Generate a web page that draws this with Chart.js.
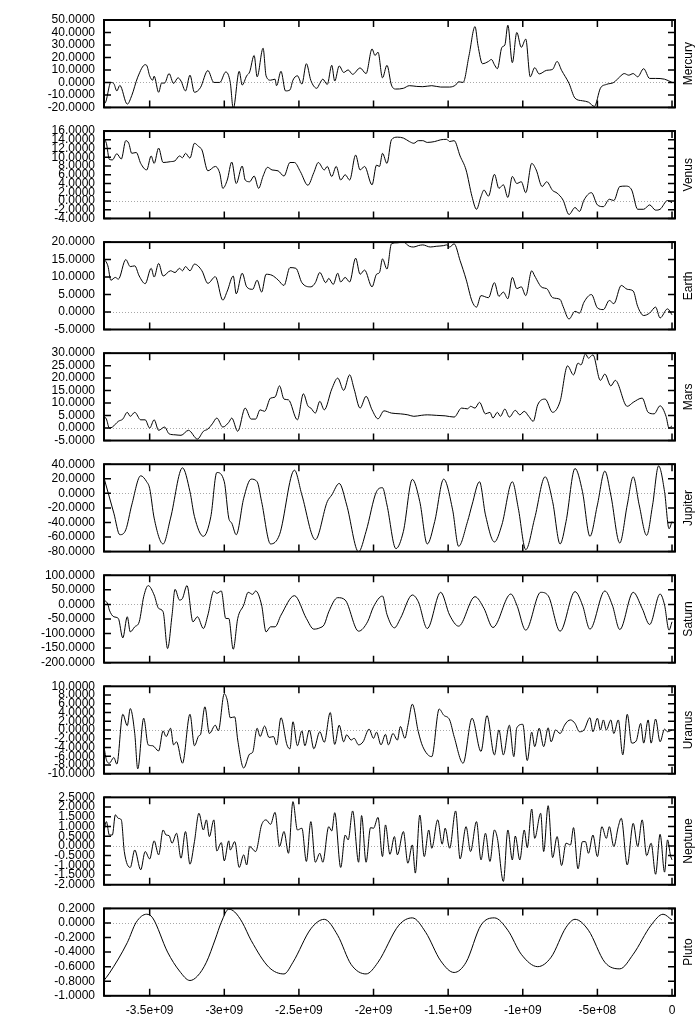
<!DOCTYPE html>
<html>
<head>
<meta charset="utf-8">
<title>Planets</title>
<script src="https://cdn.jsdelivr.net/npm/chart.js@4.4.0/dist/chart.umd.min.js"></script>
<style>
  html, body { margin: 0; padding: 0; background: #fff; }
  #wrap { position: relative; width: 700px; height: 1021px; overflow: hidden; }
  #wrap canvas { position: absolute; left: 0; }
</style>
</head>
<body>
<div id="wrap"></div>
<script>
// [age in years (negative = past), value]
const mercury = [[-381e7,-13.2],[-380e7,-16.6],[-376e7,0],[-374e7,-1],[-372e7,-6.8],[-370e7,-2.4],[-365e7,-17.4],[-362e7,-10.5],[-358e7,4.2],[-353e7,14.2],[-352e7,13.7],[-350e7,5.3],[-348e7,1.8],[-347e7,5],[-344e7,-7.9],[-342e7,-0.5],[-340e7,-0.5],[-337e7,7.1],[-334e7,-0.8],[-331e7,3.7],[-329e7,1.1],[-326e7,-6.8],[-323e7,5.8],[-320e7,-7.9],[-316e7,-4.2],[-311e7,9.5],[-307e7,0],[-303e7,0],[-299e7,8.4],[-296e7,0],[-294e7,-21],[-290e7,8.9],[-288e7,-2.1],[-285e7,5.3],[-283e7,8.4],[-280e7,21.6],[-278e7,4.5],[-274e7,27.4],[-272e7,5.3],[-269e7,1.8],[-266e7,2.6],[-265e7,-2.6],[-262e7,8.9],[-259e7,-6.8],[-256e7,-6],[-254e7,1.8],[-251e7,5.3],[-248e7,-1.3],[-245e7,15],[-242e7,1.6],[-238e7,-4.7],[-236e7,-0.8],[-234e7,2.6],[-231e7,-1.6],[-228e7,13.7],[-226e7,1.1],[-223e7,13.2],[-220e7,8],[-217e7,10],[-214e7,6.5],[-209e7,11.6],[-205e7,7.1],[-201e7,26.8],[-199e7,21.6],[-197e7,24.2],[-194e7,3.7],[-191e7,13.7],[-188e7,-2.1],[-185e7,-5.3],[-180e7,-4.7],[-176e7,-2.6],[-171e7,-3.2],[-167e7,-3.4],[-161e7,-2.6],[-155e7,-3.7],[-149e7,-3.7],[-145e7,-2.1],[-143e7,0.5],[-140e7,0],[-136e7,21.6],[-132e7,44.7],[-130e7,29.5],[-127e7,15],[-123e7,16.8],[-121e7,18.4],[-119e7,14.2],[-117e7,11],[-114e7,28.1],[-112e7,30],[-110e7,45.8],[-107e7,15.8],[-104e7,40],[-101e7,28.1],[-98e7,34.7],[-95e7,4.5],[-92e7,11.8],[-89e7,6.8],[-84e7,9.7],[-80e7,10.5],[-77e7,16.8],[-74e7,9.7],[-69e7,-0.8],[-65e7,-12.6],[-60e7,-14.7],[-56e7,-15.8],[-52e7,-19.2],[-48e7,-4.7],[-44e7,-1.6],[-39e7,0],[-35e7,4.5],[-32e7,7.1],[-29e7,5.8],[-26e7,7.1],[-23e7,4.5],[-19e7,11],[-15e7,3.2],[-11e7,3.2],[-5e7,2.6],[0,0]];

const venus = [[-381e7,14.4],[-379e7,13.2],[-377e7,9.5],[-375e7,9.4],[-372e7,10.8],[-369e7,9.6],[-366e7,13.8],[-364e7,13.2],[-362e7,10.9],[-359e7,11.1],[-356e7,8.6],[-352e7,7.1],[-349e7,10.3],[-347e7,8.6],[-344e7,12.1],[-341e7,8.8],[-336e7,9],[-333e7,9.2],[-330e7,10.3],[-328e7,9.9],[-326e7,10.9],[-323e7,9.8],[-320e7,13.2],[-317e7,12.4],[-315e7,11.7],[-311e7,6.9],[-306e7,7.9],[-303e7,6.3],[-301e7,2.9],[-298e7,4.8],[-295e7,8.9],[-292e7,4],[-288e7,8],[-286e7,4.8],[-283e7,4.4],[-280e7,5.7],[-277e7,2.9],[-274e7,5.7],[-271e7,7.7],[-268e7,7.1],[-264e7,6.9],[-260e7,5.7],[-256e7,8.8],[-253e7,8.8],[-249e7,6.7],[-244e7,3.6],[-240e7,6.5],[-237e7,8.8],[-233e7,7.1],[-231e7,7.9],[-228e7,5.6],[-225e7,7.9],[-222e7,4.8],[-219e7,6],[-216e7,4.8],[-212e7,10.5],[-209e7,7.1],[-206e7,7.9],[-201e7,3.7],[-198e7,8.2],[-196e7,7.9],[-194e7,10.9],[-191e7,8.6],[-188e7,14],[-184e7,14.6],[-180e7,14.4],[-176e7,13.6],[-173e7,13.2],[-170e7,13.8],[-167e7,13.8],[-164e7,13.4],[-159e7,13.6],[-155e7,14],[-151e7,14.1],[-149e7,13.6],[-146e7,13.8],[-142e7,10.3],[-138e7,7.1],[-134e7,1],[-131e7,-1.9],[-128e7,1],[-126e7,2.5],[-123e7,1.1],[-119e7,6.1],[-116e7,2.9],[-113e7,3.7],[-110e7,0.8],[-107e7,5.6],[-104e7,4],[-101e7,4.4],[-98e7,1.9],[-94e7,8.6],[-91e7,7.1],[-87e7,3.3],[-84e7,4.4],[-80e7,2.4],[-77e7,1.8],[-73e7,0.2],[-69e7,-3.1],[-65e7,-1.5],[-62e7,-2.4],[-59e7,0.2],[-54e7,1.9],[-50e7,-0.9],[-46e7,-1.3],[-42e7,0.4],[-39e7,0.1],[-35e7,3.3],[-31e7,3.4],[-27e7,2.5],[-23e7,-1.9],[-19e7,-1.9],[-15e7,-0.9],[-11e7,-2.1],[-8e7,-1.9],[-3e7,0.1],[0,-0.4]];

const earth = [[-381e7,15.4],[-378e7,13.2],[-376e7,9.1],[-373e7,9.9],[-371e7,9.4],[-366e7,15],[-363e7,13],[-360e7,13.2],[-357e7,10.3],[-353e7,8.1],[-349e7,12.5],[-347e7,10],[-344e7,13.9],[-341e7,10.3],[-336e7,11.8],[-333e7,11.3],[-330e7,12.5],[-328e7,11.8],[-326e7,13],[-323e7,11.8],[-320e7,13.7],[-315e7,11.8],[-311e7,8.2],[-306e7,10.1],[-301e7,3.4],[-298e7,6],[-294e7,10.3],[-292e7,5.2],[-288e7,11.1],[-285e7,7.2],[-281e7,6.5],[-278e7,9.1],[-275e7,5.7],[-272e7,10.8],[-268e7,10.5],[-264e7,9.2],[-260e7,7.6],[-256e7,12.7],[-252e7,12.5],[-248e7,8.4],[-242e7,7.2],[-239e7,8.4],[-236e7,11.3],[-232e7,8.4],[-230e7,9.6],[-227e7,7.9],[-224e7,11.1],[-222e7,8.6],[-219e7,9.9],[-216e7,8.6],[-212e7,15.4],[-209e7,10.8],[-206e7,12],[-201e7,7.2],[-198e7,10.8],[-196e7,11.3],[-194e7,15.2],[-191e7,12.3],[-188e7,19.5],[-184e7,19.8],[-180e7,20],[-176e7,18.8],[-173e7,18.6],[-170e7,19],[-167e7,19.2],[-162e7,18.6],[-158e7,18.8],[-153e7,19],[-151e7,19.2],[-149e7,18.6],[-146e7,19.5],[-142e7,14.7],[-138e7,9.4],[-134e7,3.1],[-131e7,1.4],[-128e7,4.7],[-123e7,4.1],[-119e7,8.4],[-116e7,4.5],[-113e7,5.7],[-110e7,3.8],[-107e7,9.9],[-104e7,6.7],[-101e7,7.2],[-98e7,4.7],[-94e7,11.8],[-92e7,10.3],[-87e7,7],[-84e7,6.7],[-80e7,4.1],[-75e7,3.6],[-73e7,1.6],[-69e7,-2],[-65e7,0.2],[-62e7,-0.3],[-59e7,2.8],[-54e7,5],[-50e7,1.2],[-46e7,0.7],[-42e7,3.3],[-39e7,2.4],[-34e7,7.6],[-30e7,6.5],[-26e7,6],[-23e7,1.6],[-19e7,-1],[-15e7,-0.3],[-11e7,1.4],[-8e7,-1.7],[-3e7,0.9],[0,-0.8]];

const mars = [[-381e7,4.9],[-379e7,3.6],[-377e7,0],[-375e7,0.4],[-371e7,2.7],[-368e7,3.6],[-365e7,6.3],[-363e7,4.7],[-360e7,6.3],[-356e7,3.3],[-353e7,3.3],[-350e7,0],[-347e7,3.3],[-344e7,-0.9],[-340e7,0.4],[-337e7,-2.3],[-333e7,-2.7],[-329e7,-2.9],[-324e7,-0.9],[-318e7,-4.4],[-314e7,-1.3],[-311e7,-0.4],[-308e7,1.7],[-305e7,4],[-301e7,0.4],[-297e7,2.3],[-295e7,4],[-291e7,-1.3],[-286e7,8],[-282e7,3.6],[-279e7,3.6],[-276e7,7.3],[-273e7,6.7],[-269e7,12],[-266e7,12.4],[-263e7,16.9],[-260e7,11.6],[-257e7,11.3],[-251e7,3.3],[-247e7,13.7],[-244e7,8.9],[-242e7,8],[-239e7,6],[-236e7,10.7],[-233e7,7.3],[-228e7,15.6],[-224e7,20],[-220e7,15.1],[-216e7,21.3],[-213e7,15.6],[-209e7,8],[-205e7,12.7],[-201e7,7.3],[-197e7,3.7],[-193e7,6.9],[-188e7,6],[-182e7,5.7],[-177e7,5.3],[-173e7,4.7],[-168e7,5.1],[-164e7,5.3],[-158e7,5.1],[-152e7,4.9],[-146e7,4.4],[-141e7,8],[-137e7,7.7],[-135e7,8.7],[-132e7,8],[-129e7,10.3],[-125e7,5.7],[-122e7,6.3],[-120e7,4],[-117e7,6.3],[-115e7,4.7],[-112e7,7.6],[-109e7,4.4],[-105e7,7.1],[-102e7,5.3],[-99e7,6.7],[-96e7,4.7],[-93e7,2.7],[-90e7,9.3],[-85e7,11.6],[-80e7,6.3],[-75e7,10.7],[-70e7,24.9],[-66e7,21.3],[-63e7,26],[-61e7,25.3],[-58e7,29.7],[-56e7,28],[-53e7,29.3],[-48e7,19.1],[-45e7,21.6],[-41e7,16.9],[-38e7,19.1],[-30e7,8.7],[-26e7,10.3],[-20e7,12],[-16e7,6.3],[-12e7,5.7],[-8e7,8.9],[-4e7,4.7],[-2e7,0],[0,0.9]];

const jupiter = [[-381e7,24.1],[-374e7,-27.3],[-370e7,-56.8],[-366e7,-50],[-362e7,-15.9],[-356e7,24.1],[-352e7,15.9],[-350e7,6.8],[-347e7,-34],[-341e7,-69.5],[-336e7,-34],[-328e7,35],[-323e7,2.3],[-320e7,-31.8],[-314e7,-59],[-309e7,-31.8],[-305e7,28.6],[-300e7,15.9],[-297e7,-34],[-295e7,-40.9],[-292e7,-56.8],[-287e7,-6.8],[-282e7,19.5],[-278e7,15.9],[-275e7,-11.4],[-269e7,-69.5],[-263e7,-56.8],[-253e7,31.8],[-248e7,-2.3],[-239e7,-63.6],[-231e7,-11.4],[-228e7,-2.3],[-223e7,13.6],[-218e7,-15.9],[-210e7,-80.5],[-205e7,-52.3],[-198e7,2.3],[-194e7,7.7],[-191e7,-15.9],[-185e7,-75.9],[-180e7,-52.3],[-174e7,19.1],[-169e7,-11.4],[-164e7,-69.5],[-159e7,-38.6],[-153e7,19.5],[-147e7,-22.7],[-143e7,-72.7],[-137e7,-38.6],[-134e7,-15.9],[-129e7,15.9],[-125e7,-29.5],[-119e7,-66.8],[-114e7,-43.2],[-107e7,15.9],[-103e7,-20.5],[-98e7,-77.3],[-92e7,-34],[-85e7,22.7],[-80e7,-11.4],[-75e7,-69.5],[-71e7,-38.6],[-65e7,34.1],[-60e7,2.3],[-55e7,-59],[-50e7,-15.9],[-45e7,30.5],[-41e7,-2.3],[-35e7,-68.2],[-30e7,-15.9],[-26e7,22.7],[-22e7,-15.9],[-17e7,-57.7],[-13e7,-15.9],[-9e7,37.7],[-5e7,2.3],[-2e7,-48.6],[0,-38.6]];

const saturn = [[-381e7,3.4],[-380e7,11.5],[-378e7,0],[-377e7,-19.5],[-374e7,-42.5],[-371e7,-48.3],[-368e7,-115],[-365e7,-42.5],[-363e7,-94.3],[-360e7,-77],[-357e7,-59.8],[-354e7,26.4],[-351e7,64.4],[-347e7,32.2],[-344e7,-13.8],[-341e7,-25.3],[-338e7,-151.7],[-335e7,-36.8],[-333e7,51.7],[-330e7,14.9],[-328e7,20.7],[-325e7,64.4],[-321e7,-59.8],[-318e7,-42.5],[-314e7,-82.8],[-311e7,-36.8],[-307e7,46],[-305e7,37.9],[-302e7,46],[-299e7,-48.3],[-297e7,-48.3],[-294e7,-154],[-291e7,-48.3],[-287e7,-2.3],[-284e7,41.4],[-281e7,34.5],[-279e7,46],[-275e7,-2.3],[-272e7,-94.3],[-269e7,-77],[-266e7,-77],[-262e7,-36.8],[-253e7,29.9],[-245e7,-48.3],[-240e7,-85],[-236e7,-80.5],[-233e7,-69],[-230e7,-25.3],[-224e7,23],[-219e7,14.9],[-210e7,-92],[-204e7,-59.8],[-200e7,-8],[-194e7,28.7],[-191e7,-34.5],[-186e7,-80.5],[-182e7,-48.3],[-174e7,32.2],[-170e7,9.2],[-164e7,-82.8],[-155e7,41.4],[-149e7,-36.8],[-143e7,-74.7],[-132e7,26.4],[-126e7,-13.8],[-120e7,-79.3],[-108e7,35.6],[-104e7,-2.3],[-98e7,-88.5],[-88e7,41.4],[-83e7,29.9],[-75e7,-92],[-65e7,43.7],[-60e7,-2.3],[-55e7,-85],[-45e7,46],[-40e7,-2.3],[-35e7,-86.2],[-26e7,41.4],[-20e7,-13.8],[-15e7,-69],[-8e7,35.6],[-5e7,-2.3],[-2e7,-88.5],[0,-59.8]];

const uranus = [[-381e7,-3],[-379e7,-6.8],[-377e7,-7.6],[-374e7,-6.3],[-372e7,-7.8],[-368e7,3.6],[-365e7,1],[-363e7,4.9],[-360e7,-0.8],[-358e7,-8.9],[-354e7,2.7],[-351e7,-3.4],[-348e7,-3.6],[-344e7,-4.8],[-341e7,-0.2],[-339e7,-1.5],[-336e7,0.4],[-334e7,-3.4],[-332e7,-2.7],[-328e7,-7.6],[-323e7,3.6],[-320e7,-3.6],[-317e7,-1.3],[-316e7,-1.1],[-313e7,5.3],[-310e7,-0.8],[-306e7,1.1],[-304e7,-0.2],[-300e7,8.3],[-298e7,6.8],[-296e7,2.8],[-293e7,3],[-291e7,-2.3],[-287e7,-8.7],[-283e7,-5.5],[-281e7,-5.1],[-278e7,0.4],[-276e7,-1.5],[-273e7,0.9],[-270e7,-1.7],[-267e7,-1.5],[-265e7,-3.4],[-262e7,2.8],[-258e7,-3.4],[-256e7,-4.3],[-254e7,1.9],[-251e7,-3.6],[-248e7,-0.2],[-246e7,-3.6],[-243e7,0],[-240e7,-4.3],[-236e7,-0.4],[-233e7,-2.8],[-229e7,4],[-226e7,-3.3],[-223e7,1.1],[-220e7,-2.7],[-218e7,-1.1],[-215e7,-2.3],[-213e7,-1.9],[-210e7,-3.4],[-207e7,-2.7],[-203e7,0.2],[-200e7,-1.9],[-198e7,-0.5],[-195e7,-3.4],[-192e7,-1],[-190e7,-3.4],[-187e7,-0.8],[-184e7,-2.3],[-182e7,0.8],[-179e7,-1.9],[-177e7,1],[-174e7,5.9],[-170e7,-0.4],[-167e7,-3.8],[-161e7,-6.1],[-156e7,4.8],[-153e7,3.4],[-149e7,2.3],[-146e7,-1.5],[-140e7,-7.6],[-134e7,2.7],[-128e7,-4.9],[-124e7,3.3],[-119e7,-5.7],[-116e7,0],[-113e7,-5.7],[-109e7,1.1],[-106e7,-6.1],[-104e7,0.5],[-100e7,1.3],[-97e7,-7],[-94e7,-0.5],[-92e7,-3.8],[-89e7,0.4],[-86e7,-3.8],[-83e7,0.5],[-81e7,-2.7],[-78e7,0],[-75e7,-0.8],[-72e7,1.1],[-70e7,2],[-68e7,2.3],[-65e7,1.5],[-62e7,-0.4],[-59e7,0],[-55e7,2.8],[-53e7,-0.4],[-50e7,2.7],[-48e7,0],[-46e7,2.3],[-44e7,0],[-41e7,2.3],[-39e7,-0.8],[-36e7,2.3],[-33e7,-5.7],[-30e7,3.6],[-27e7,-3],[-24e7,-2.5],[-21e7,1.5],[-19e7,-3],[-16e7,2.3],[-14e7,-3],[-11e7,2.5],[-8e7,-2.7],[-5e7,0.2],[-3e7,-0.4],[0,0]];

const neptune = [[-381e7,0.56],[-379e7,1.25],[-377e7,0.56],[-375e7,0.56],[-373e7,1.6],[-371e7,1.42],[-369e7,1.34],[-367e7,-0.29],[-363e7,-1.11],[-360e7,-0.21],[-356e7,-1.23],[-353e7,-0.29],[-350e7,-0.67],[-347e7,0.26],[-344e7,-0.46],[-341e7,0.82],[-339e7,0.56],[-337e7,0.53],[-335e7,0.14],[-332e7,0.65],[-329e7,-0.63],[-326e7,0.74],[-323e7,-0.94],[-320e7,0.22],[-317e7,1.68],[-314e7,0.82],[-312e7,1.34],[-310e7,0.48],[-307e7,1.34],[-305e7,-0.26],[-302e7,0.17],[-300e7,-0.77],[-297e7,0.26],[-296e7,-0.21],[-293e7,0.22],[-290e7,-1.11],[-287e7,-0.46],[-285e7,-0.98],[-283e7,-0.03],[-279e7,-0.29],[-275e7,1.08],[-272e7,1.34],[-269e7,1.11],[-266e7,1.73],[-263e7,-0.03],[-260e7,0.74],[-257e7,-0.38],[-254e7,2.28],[-251e7,0.82],[-248e7,0.91],[-245e7,-0.8],[-242e7,1.25],[-239e7,-0.84],[-236e7,-0.38],[-234e7,-0.84],[-230e7,0.99],[-228e7,0.77],[-226e7,1.71],[-222e7,-1.11],[-219e7,0.56],[-217e7,0.31],[-214e7,1.8],[-210e7,-0.84],[-208e7,1.56],[-205e7,-0.84],[-202e7,0.94],[-200e7,0.91],[-197e7,1.47],[-194e7,-0.55],[-192e7,1.08],[-189e7,-0.43],[-186e7,0.48],[-184e7,-0.46],[-180e7,0.74],[-177e7,-0.89],[-174e7,0.05],[-172e7,-1.4],[-169e7,1.59],[-166e7,-0.55],[-163e7,0.82],[-161e7,-0.12],[-157e7,1.34],[-154e7,0.09],[-152e7,0.91],[-149e7,-0.12],[-145e7,1.8],[-142e7,-0.67],[-138e7,0.99],[-135e7,-0.29],[-131e7,1.25],[-128e7,-0.72],[-125e7,0.65],[-122e7,-0.8],[-119e7,0.82],[-117e7,0.39],[-113e7,-1.83],[-110e7,0.82],[-107e7,-0.72],[-105e7,0.51],[-102e7,-0.72],[-99e7,0.82],[-97e7,-0.09],[-94e7,1.9],[-92e7,0.39],[-88e7,1.68],[-86e7,-0.29],[-83e7,2.07],[-80e7,-0.6],[-77e7,0.48],[-74e7,-1.01],[-71e7,0.14],[-68e7,0.05],[-66e7,0.94],[-63e7,-1.18],[-60e7,0.22],[-58e7,0.22],[-56e7,-0.38],[-53e7,0.56],[-50e7,-0.55],[-47e7,0.99],[-44e7,0.39],[-42e7,0.99],[-39e7,-0.03],[-36e7,0.99],[-34e7,1.42],[-30e7,-0.98],[-26e7,1.16],[-23e7,-0.03],[-20e7,1.34],[-17e7,-0.5],[-14e7,0.14],[-11e7,-1.46],[-8e7,0.6],[-5e7,-1.35],[-3e7,0.31],[-1e7,-0.5],[0,-0.72]];

const pluto = [[-381e7,-0.8],[-377e7,-0.69],[-365e7,-0.27],[-359e7,0.01],[-352e7,0.12],[-348e7,0.07],[-338e7,-0.4],[-330e7,-0.66],[-323e7,-0.79],[-318e7,-0.73],[-312e7,-0.54],[-306e7,-0.22],[-302e7,0.01],[-297e7,0.19],[-293e7,0.15],[-288e7,0.01],[-282e7,-0.24],[-270e7,-0.61],[-260e7,-0.7],[-254e7,-0.54],[-242e7,-0.08],[-233e7,0.05],[-224e7,-0.17],[-215e7,-0.57],[-205e7,-0.7],[-197e7,-0.54],[-183e7,-0.03],[-174e7,0.07],[-165e7,-0.13],[-155e7,-0.52],[-146e7,-0.68],[-138e7,-0.54],[-128e7,-0.03],[-119e7,0.07],[-110e7,-0.1],[-101e7,-0.43],[-90e7,-0.6],[-81e7,-0.47],[-71e7,-0.06],[-65e7,0.05],[-56e7,-0.1],[-45e7,-0.54],[-35e7,-0.63],[-26e7,-0.43],[-14e7,-0.03],[-6e7,0.12],[0,0.04]];

// y axis of each panel: [min, max, step]
const mercuryAxis = [-20, 50, 10];
const venusAxis = [-4, 16, 2];
const earthAxis = [-5, 20, 5];
const marsAxis = [-5, 30, 5];
const jupiterAxis = [-80, 40, 20];
const saturnAxis = [-200, 100, 50];
const uranusAxis = [-10, 10, 2];
const neptuneAxis = [-2, 2.5, 0.5];
const plutoAxis = [-1, 0.2, 0.2];

const planetNames = ['Mercury', 'Venus', 'Earth', 'Mars', 'Jupiter', 'Saturn', 'Uranus', 'Neptune', 'Pluto'];
const planetSeries = [mercury, venus, earth, mars, jupiter, saturn, uranus, neptune, pluto];
const planetAxes = [mercuryAxis, venusAxis, earthAxis, marsAxis, jupiterAxis, saturnAxis, uranusAxis, neptuneAxis, plutoAxis];

// x axis (years)
const ageTicks = [-3.5e9, -3e9, -2.5e9, -2e9, -1.5e9, -1e9, -5e8, 0];
const ageMin = -3.806e9;
const ageMax = 0.02e9;

// layout
const PLOT_LEFT = 104, PLOT_RIGHT = 675;
const FIRST_TOP = 20, PITCH = 111.05, PANEL_H = 87.4;

Chart.defaults.font.family = "'Liberation Sans', Arial, sans-serif";
Chart.defaults.font.size = 12;
Chart.defaults.color = '#000';

function formatAge(v) {
    if (v === 0) return '0';
    const parts = v.toExponential().split('e');
    const exp = parts[1];
    let digits = exp.slice(1);
    if (digits.length < 2) digits = '0' + digits;
    return parts[0] + 'e' + exp[0] + digits;
}

const framePlugin = {
    id: 'frame',
    beforeDatasetsDraw(chart) {
        const ctx = chart.ctx;
        const a = chart.chartArea;
        const y0 = Math.round(chart.scales.y.getPixelForValue(0)) + 0.5;
        ctx.save();
        ctx.strokeStyle = '#a8a8a8';
        ctx.lineWidth = 1;
        ctx.setLineDash([1, 2]);
        ctx.beginPath();
        ctx.moveTo(a.left, y0);
        ctx.lineTo(a.right, y0);
        ctx.stroke();
        ctx.restore();
    },
    afterDraw(chart, args, opts) {
        const ctx = chart.ctx;
        const a = chart.chartArea;
        const xs = chart.scales.x, ys = chart.scales.y;
        const tick = 7;
        ctx.save();
        ctx.strokeStyle = '#000';
        ctx.lineWidth = 1.5;
        ctx.beginPath();
        xs.ticks.forEach(t => {
            const px = xs.getPixelForValue(t.value);
            ctx.moveTo(px, a.bottom); ctx.lineTo(px, a.bottom - tick);
            ctx.moveTo(px, a.top); ctx.lineTo(px, a.top + tick);
        });
        ys.ticks.forEach(t => {
            const py = ys.getPixelForValue(t.value);
            ctx.moveTo(a.left, py); ctx.lineTo(a.left + tick, py);
            ctx.moveTo(a.right, py); ctx.lineTo(a.right - tick, py);
        });
        ctx.stroke();
        ctx.lineWidth = 2;
        ctx.strokeRect(a.left, a.top, a.right - a.left, a.bottom - a.top);
        // planet name on the right, reading upwards
        ctx.translate(689, (a.top + a.bottom) / 2);
        ctx.rotate(-Math.PI / 2);
        ctx.fillStyle = '#000';
        ctx.font = "12px 'Liberation Sans', Arial, sans-serif";
        ctx.textAlign = 'center';
        ctx.textBaseline = 'middle';
        ctx.fillText(opts.name, 0, 0);
        ctx.restore();
    }
};

const wrap = document.getElementById('wrap');

planetNames.forEach(function (name, i) {
    const axis = planetAxes[i];
    const last = i === planetNames.length - 1;
    const panelTop = FIRST_TOP + i * PITCH;
    const canvasTop = Math.floor(panelTop) - 10;
    const h = last ? 1021 - canvasTop : 108;
    const padTop = panelTop - canvasTop;
    const axisH = last ? 25 : 0;
    const padBottom = h - padTop - PANEL_H - axisH;

    const canvas = document.createElement('canvas');
    canvas.width = 700;
    canvas.height = h;
    canvas.style.width = '700px';
    canvas.style.height = h + 'px';
    canvas.style.top = canvasTop + 'px';
    wrap.appendChild(canvas);

    new Chart(canvas.getContext('2d'), {
        type: 'line',
        data: {
            datasets: [{
                label: name,
                data: planetSeries[i].map(p => ({ x: p[0], y: p[1] })),
                borderColor: '#000',
                borderWidth: 1,
                pointRadius: 0,
                fill: false,
                cubicInterpolationMode: 'monotone'
            }]
        },
        options: {
            responsive: false,
            animation: false,
            devicePixelRatio: 1,
            events: [],
            layout: { padding: { top: padTop, bottom: padBottom, left: 0, right: 700 - PLOT_RIGHT } },
            plugins: {
                legend: { display: false },
                tooltip: { enabled: false },
                frame: { name: name }
            },
            scales: {
                x: {
                    type: 'linear',
                    display: last,
                    min: ageMin,
                    max: ageMax,
                    grid: { display: false, drawTicks: false },
                    border: { display: false },
                    afterBuildTicks: s => { s.ticks = ageTicks.map(v => ({ value: v })); },
                    afterFit: s => {
                        s.height = axisH;
                        s.paddingLeft = 0;
                        s.paddingRight = 0;
                    },
                    ticks: {
                        autoSkip: false,
                        maxRotation: 0,
                        minRotation: 0,
                        padding: 8,
                        callback: v => formatAge(v)
                    }
                },
                y: {
                    type: 'linear',
                    min: axis[0],
                    max: axis[1],
                    grid: { display: false, drawTicks: false },
                    border: { display: false },
                    afterBuildTicks: s => {
                        const t = [];
                        for (let v = axis[0]; v <= axis[1] + 1e-9; v += axis[2]) {
                            t.push({ value: Math.round(v * 1e6) / 1e6 });
                        }
                        s.ticks = t;
                    },
                    afterFit: s => {
                        s.width = PLOT_LEFT;
                        s.paddingTop = 0;
                        s.paddingBottom = 0;
                    },
                    ticks: {
                        autoSkip: false,
                        padding: 9,
                        callback: v => Number(v).toFixed(4)
                    }
                }
            }
        },
        plugins: [framePlugin]
    });
});
</script>
</body>
</html>
